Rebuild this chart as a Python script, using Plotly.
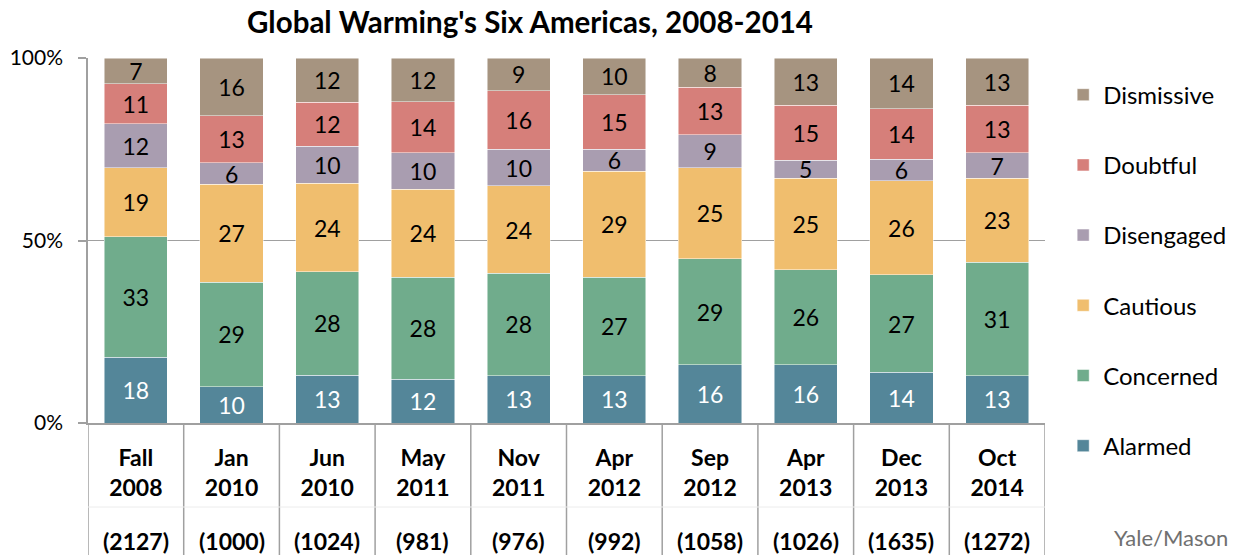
import plotly.graph_objects as go

categories = ["Fall 2008", "Jan 2010", "Jun 2010", "May 2011", "Nov 2011",
              "Apr 2012", "Sep 2012", "Apr 2013", "Dec 2013", "Oct 2014"]
tick_labels = ["Fall<br>2008", "Jan<br>2010", "Jun<br>2010", "May<br>2011", "Nov<br>2011",
               "Apr<br>2012", "Sep<br>2012", "Apr<br>2013", "Dec<br>2013", "Oct<br>2014"]
sample_sizes = ["(2127)", "(1000)", "(1024)", "(981)", "(976)",
                "(992)", "(1058)", "(1026)", "(1635)", "(1272)"]

alarmed = [18, 10, 13, 12, 13, 13, 16, 16, 14, 13]
concerned = [33, 29, 28, 28, 28, 27, 29, 26, 27, 31]
cautious = [19, 27, 24, 24, 24, 29, 25, 25, 26, 23]
disengaged = [12, 6, 10, 10, 10, 6, 9, 5, 6, 7]
doubtful = [11, 13, 12, 14, 16, 15, 13, 15, 14, 13]
dismissive = [7, 16, 12, 12, 9, 10, 8, 13, 14, 13]

series = [
    ("Alarmed", alarmed, "#548699", "white"),
    ("Concerned", concerned, "#70ac8c", "black"),
    ("Cautious", cautious, "#f0be6e", "black"),
    ("Disengaged", disengaged, "#a99db0", "black"),
    ("Doubtful", doubtful, "#d67f7a", "black"),
    ("Dismissive", dismissive, "#a69480", "black"),
]

FONT = "Lato"
fig = go.Figure()
n_series = len(series)
for k, (name, vals, color, tcolor) in enumerate(series):
    fig.add_trace(go.Bar(
        name=name, x=categories, y=vals, legendgroup=name,
        legendrank=n_series - k,
        marker=dict(color=color, line=dict(color="rgba(255,255,255,0.6)", width=0.8)),
        text=[str(v) for v in vals], textposition="inside", insidetextanchor="middle",
        textfont=dict(family=FONT, size=23, color=tcolor), textangle=0,
        constraintext="none", hoverinfo="skip",
    ))

L, R, T, B = 88, 192, 58, 132
W, H = 1237, 555
ph = H - T - B

fig.update_layout(
    width=W, height=H,
    barmode="stack", barnorm="percent", bargap=0.34,
    plot_bgcolor="white", paper_bgcolor="white",
    margin=dict(l=L, r=R, t=T, b=B, autoexpand=False),
    font=dict(family=FONT, color="black"),
    showlegend=True,
    legend=dict(x=1.019, xanchor="left", y=0.96, yanchor="top",
                traceorder="grouped", tracegroupgap=36,
                font=dict(family=FONT, size=24), itemwidth=30,
                bgcolor="rgba(0,0,0,0)", maxheight=540),
    uniformtext=dict(mode=False),
)

fig.update_xaxes(
    type="category", tickmode="array", tickvals=categories, ticktext=tick_labels,
    tickfont=dict(family=FONT, size=23, color="black", weight="bold"),
    range=[-0.5, 9.5], showline=True, linecolor="#a0a0a0", linewidth=1.5,
    ticks="", ticklabelstandoff=14, showgrid=False, automargin=False,
)
fig.update_yaxes(
    range=[0, 100], tickvals=[0, 50, 100], ticktext=["0%", "50%", "100%"],
    tickfont=dict(family=FONT, size=21, color="black"),
    showgrid=True, gridcolor="#a0a0a0", gridwidth=1.2,
    showline=True, linecolor="#a0a0a0", linewidth=1.5,
    ticks="outside", ticklen=8, tickcolor="#a0a0a0", tickwidth=1.5,
    ticklabelstandoff=11, zeroline=False, automargin=False,
)

bottom = -B / ph
for i in range(len(categories) + 1):
    fig.add_shape(type="line", xref="x", yref="paper",
                  x0=i - 0.5, x1=i - 0.5, y0=0, y1=bottom,
                  line=dict(color="#a0a0a0", width=1.5))
fig.add_shape(type="line", xref="x", yref="paper", x0=-0.5, x1=9.5,
              y0=-(507 - (H - B)) / ph, y1=-(507 - (H - B)) / ph,
              line=dict(color="#ececec", width=1))

for cat, n in zip(categories, sample_sizes):
    fig.add_annotation(x=cat, xref="x", y=-(541 - (H - B)) / ph, yref="paper",
                       text=n, showarrow=False, yanchor="middle",
                       font=dict(family=FONT, size=23, color="black", weight="bold"))

fig.add_annotation(text="Global Warming's Six Americas, 2008-2014",
                   xref="paper", yref="paper", x=(530 - L) / (W - L - R),
                   y=((H - B) - 22) / ph,
                   showarrow=False, xanchor="center", yanchor="middle",
                   font=dict(family=FONT, size=29.5, color="black", weight="bold"))

fig.add_annotation(text="Yale/Mason", xref="paper", yref="paper",
                   x=(1171 - L) / (W - L - R), y=-(537 - (H - B)) / ph,
                   showarrow=False, xanchor="center", yanchor="middle",
                   font=dict(family=FONT, size=22, color="#707070"))

fig.write_html(
    "out.html",
    config={"displayModeBar": False},
    post_script="document.body.style.margin='0';document.body.style.padding='0';"
                "document.body.style.overflow='hidden';",
)
